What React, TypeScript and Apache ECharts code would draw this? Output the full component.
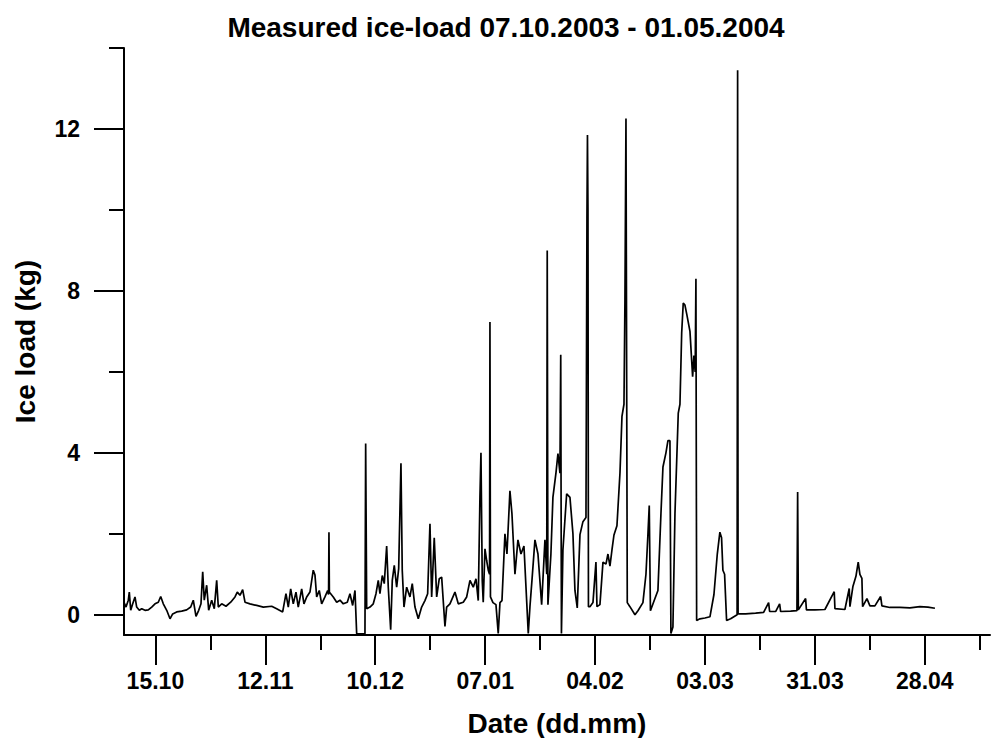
import React, { useEffect, useRef } from "react";
import * as echarts from "echarts";

// x values: days since 07.10.2003 00:00
const tickDays = [8, 36, 64, 92, 120, 148, 176, 204];
const tickLabels = ["15.10", "12.11", "10.12", "07.01", "04.02", "03.03", "31.03", "28.04"];
const minorTickDays = [22, 50, 78, 106, 134, 162, 190, 218];
const yMajorTicks = [0, 4, 8, 12];
const yMinorTicks = [2, 6, 10, 14];

const days = [
  0.0, 0.51, 1.1, 1.35, 1.71, 2.22, 2.8, 3.23, 3.9, 4.51, 5.35, 6.19, 7.06, 7.9, 8.74, 9.35, 10.01, 10.88,
  11.72, 12.4, 13.42, 14.7, 15.97, 16.99, 17.65, 18.34, 19.03, 19.61, 20.05, 20.45, 21.06, 21.57, 22.34, 23.0,
  23.61, 24.02, 24.88, 25.98, 27.18, 28.27, 28.86, 29.55, 30.23, 30.82, 32.09, 33.8, 35.48, 37.62, 38.89, 40.42,
  41.26, 41.85, 42.46, 43.12, 43.81, 44.39, 45.26, 45.84, 46.53, 47.37, 48.21, 48.65, 49.08, 49.74, 50.35, 51.19,
  51.88, 52.11, 52.21, 52.32, 52.65, 53.31, 54.18, 55.02, 55.86, 56.88, 57.56, 58.25, 58.84, 59.27, 61.38, 61.56,
  61.82,
  62.66, 63.5, 64.19, 64.77, 65.2, 65.79, 66.3, 66.91, 67.32, 67.93, 68.34, 68.85, 69.46, 69.97, 70.55, 70.88,
  71.32, 72.0, 72.84, 73.43, 74.12, 74.96, 75.82, 76.66, 77.35, 77.94, 78.37, 79.03, 79.65, 80.31, 80.92, 81.76,
  82.19, 83.03, 84.31, 85.15, 86.42, 87.29, 88.13, 88.97, 89.66, 90.24, 90.67, 90.93, 91.26, 91.51, 91.95, 92.38,
  92.79, 93.12, 93.22, 93.35, 93.99, 94.75, 95.33, 95.77, 96.28, 97.04, 97.55, 98.31, 98.82, 99.59, 100.35, 101.12,
  101.88, 102.39, 102.98, 103.41, 103.92, 104.68, 105.45, 106.39, 107.23, 107.69, 107.81, 107.99, 108.75, 109.26,
  110.03, 110.54, 111.05, 111.25, 111.43, 111.81, 112.76, 113.6, 114.36, 114.87, 115.46, 116.15, 116.91, 117.68,
  117.93, 118.06, 118.19, 118.31, 118.69, 119.46, 120.22, 120.48, 121.24, 122.01, 122.77, 123.28, 123.79, 124.3,
  124.81, 125.57, 126.34, 126.85, 127.36, 127.61, 127.87, 128.2, 128.88, 130.16, 130.92, 132.19, 132.96, 133.47,
  133.8, 134.1, 135.25, 136.01, 136.78, 137.29, 138.05, 138.56, 139.07, 139.32, 139.83, 140.35, 141.19, 141.62,
  142.06, 142.46, 142.89, 143.4, 144.17, 144.85, 145.18, 145.5, 145.69, 145.87, 146.71, 147.98, 149.26, 150.28,
  151.13, 151.79, 152.22, 152.56, 152.99, 153.5, 154.52, 156.18, 156.31, 156.43, 158.34, 160.89, 162.93, 164.21,
  164.46, 165.99, 167.01, 167.27, 169.81, 171.42, 171.6, 171.78, 173.63, 173.84, 176.0, 178.55, 180.92, 181.1,
  183.64, 184.74, 184.92, 185.68, 186.45, 187.03, 187.46, 187.97, 188.15, 189.25, 190.01, 191.28, 192.74, 193.07,
  195.1, 197.65, 200.2, 202.74, 204.78, 206.57,
];

const iceLoad = [
  0.31, 0.19, 0.36, 0.56, 0.11, 0.27, 0.44, 0.19, 0.11, 0.15, 0.11, 0.12, 0.19, 0.27, 0.31, 0.45, 0.27, 0.11,
  -0.1, 0.02, 0.07, 0.09, 0.12, 0.19, 0.36, -0.04, 0.11, 0.27, 1.06, 0.36, 0.73, 0.11, 0.36, 0.15,
  0.85, 0.19, 0.27, 0.21, 0.31, 0.44, 0.56, 0.48, 0.62, 0.31, 0.27, 0.23, 0.19, 0.21, 0.15, 0.07,
  0.52, 0.19, 0.64, 0.27, 0.56, 0.19, 0.64, 0.27, 0.44, 0.56, 1.1, 0.98, 0.44, 0.6, 0.27, 0.44,
  0.6, 0.5, 2.04, 0.55, 0.52, 0.44, 0.31, 0.36, 0.27, 0.31, 0.52, 0.23, 0.6, -0.47, -0.47, 4.23,
  0.15,
  0.19, 0.27, 0.52, 0.85, 0.52, 0.97, 0.77, 1.7, 0.68, -0.37, 0.85, 1.22, 0.68, 1.14, 3.74, 1.1,
  0.19, 0.68, 0.44, 0.77, 0.19, -0.1, 0.19, 0.35, 0.52, 2.25, 0.44, 1.9, 0.44, 0.89, 0.93, -0.29,
  0.19, 0.27, 0.56, 0.27, 0.31, 0.44, 0.85, 0.68, 0.89, 0.35, 2.9, 4.0, 0.85, 0.31, 1.63, 1.34,
  1.1, 1.0, 7.23, 0.44, 0.3, 0.25, -0.46, 0.3, 0.35, 2.0, 1.5, 3.06, 2.5, 1.0, 1.85, 1.5,
  1.7, 0.7, -0.46, 0.2, 0.85, 1.85, 1.5, 0.25, 1.85, 1.0, 9.0, 0.25, 1.5, 2.9,
  3.5, 3.98, 3.5, 6.42, -0.46, 1.6, 2.99, 2.9, 2.0, 0.6, 0.17, 1.98, 2.3, 2.4,
  9.8, 11.85, 10.0, 0.2, 0.2, 0.3, 1.3, 0.2, 0.25, 1.3, 1.25, 1.5, 1.2, 1.6,
  1.97, 2.2, 3.5, 4.9, 5.2, 7.8, 12.26, 0.3, 0.2, 0.0, 0.1, 0.3, 1.0, 2.0,
  2.7, 0.1, 0.4, 0.6, 2.5, 3.65, 4.0, 4.3, 4.3, -0.46, -0.3, 2.5, 4.98, 5.2,
  6.96, 7.7, 7.65, 7.4, 7.0, 5.88, 6.4, 6.0, 8.3, -0.14, -0.1, -0.08, -0.05, 0.5,
  1.5, 2.04, 1.9, 1.1, 1.0, -0.14, -0.1, 0.0, 13.45, 0.02, 0.02, 0.04, 0.06, 0.3,
  0.08, 0.08, 0.27, 0.08, 0.09, 0.1, 3.03, 0.12, 0.4, 0.12, 0.12, 0.13, 0.57, 0.15,
  0.13, 0.65, 0.2, 0.7, 0.95, 1.3, 1.0, 0.9, 0.2, 0.4, 0.22, 0.22, 0.45, 0.22,
  0.18, 0.18, 0.17, 0.2, 0.19, 0.16,
];

const FONT = "'Liberation Sans', Arial, Helvetica, sans-serif";
const X_MIN = 0;
const X_MAX = 220.6;
const Y_MIN = -0.5;
const Y_MAX = 14;

export default function App() {
  const ref = useRef<HTMLDivElement>(null);

  useEffect(() => {
    document.body.style.margin = "0";
    if (!ref.current) return;
    const chart = echarts.init(ref.current, undefined, { renderer: "svg" });
    const data = days.map((d, i) => [d, iceLoad[i]]);
    const axisLineStyle = { color: "#000", width: 2 };
    chart.setOption({
      animation: false,
      backgroundColor: "#fff",
      title: {
        text: "Measured ice-load 07.10.2003 - 01.05.2004",
        left: 501,
        textAlign: "center",
        top: 8,
        textStyle: { fontFamily: FONT, fontSize: 28, fontWeight: "bold", color: "#000" },
      },
      grid: { left: 124, right: 2, top: 48, bottom: 103, containLabel: false, outerBoundsMode: "none" },
      xAxis: [
        {
          type: "value",
          min: X_MIN,
          max: X_MAX,
          position: "bottom",
          axisLine: { show: true, onZero: false, lineStyle: axisLineStyle },
          axisTick: { show: true, customValues: tickDays, length: 30, lineStyle: { color: "#000", width: 2 } },
          axisLabel: {
            show: true,
            customValues: tickDays,
            margin: 34,
            fontFamily: FONT,
            fontSize: 23,
            fontWeight: "bold",
            color: "#000",
            formatter: (v: number) => {
              const i = tickDays.indexOf(Math.round(v));
              return i >= 0 ? tickLabels[i] : "";
            },
          },
          splitLine: { show: false },
          name: "Date (dd.mm)",
          nameLocation: "middle",
          nameGap: 74,
          nameMoveOverlap: false,
          nameTextStyle: { fontFamily: FONT, fontSize: 28, fontWeight: "bold", color: "#000" },
        },
        {
          type: "value",
          min: X_MIN,
          max: X_MAX,
          position: "bottom",
          axisLine: { show: false, onZero: false },
          axisTick: { show: true, customValues: minorTickDays, length: 15, lineStyle: { color: "#000", width: 2 } },
          axisLabel: { show: false },
          splitLine: { show: false },
        },
      ],
      yAxis: [
        {
          type: "value",
          min: Y_MIN,
          max: Y_MAX,
          position: "left",
          axisLine: { show: true, onZero: false, lineStyle: axisLineStyle },
          axisTick: { show: true, customValues: yMajorTicks, length: 30, lineStyle: { color: "#000", width: 2 } },
          axisLabel: {
            show: true,
            customValues: yMajorTicks,
            margin: 44,
            fontFamily: FONT,
            fontSize: 23,
            fontWeight: "bold",
            color: "#000",
          },
          splitLine: { show: false },
          name: "Ice load (kg)",
          nameLocation: "middle",
          nameGap: 85,
          nameMoveOverlap: false,
          nameTextStyle: { fontFamily: FONT, fontSize: 28, fontWeight: "bold", color: "#000" },
        },
        {
          type: "value",
          min: Y_MIN,
          max: Y_MAX,
          position: "left",
          axisLine: { show: false, onZero: false },
          axisTick: { show: true, customValues: yMinorTicks, length: 15, lineStyle: { color: "#000", width: 2 } },
          axisLabel: { show: false },
          splitLine: { show: false },
        },
      ],
      series: [
        {
          type: "line",
          xAxisIndex: 0,
          yAxisIndex: 0,
          data,
          showSymbol: false,
          symbol: "none",
          lineStyle: { color: "#000", width: 1.7 },
          clip: false,
        },
      ],
    });
    return () => chart.dispose();
  }, []);

  return (
    <div
      ref={ref}
      style={{ position: "absolute", left: 0, top: 0, width: 992, height: 738, background: "#fff" }}
    />
  );
}
